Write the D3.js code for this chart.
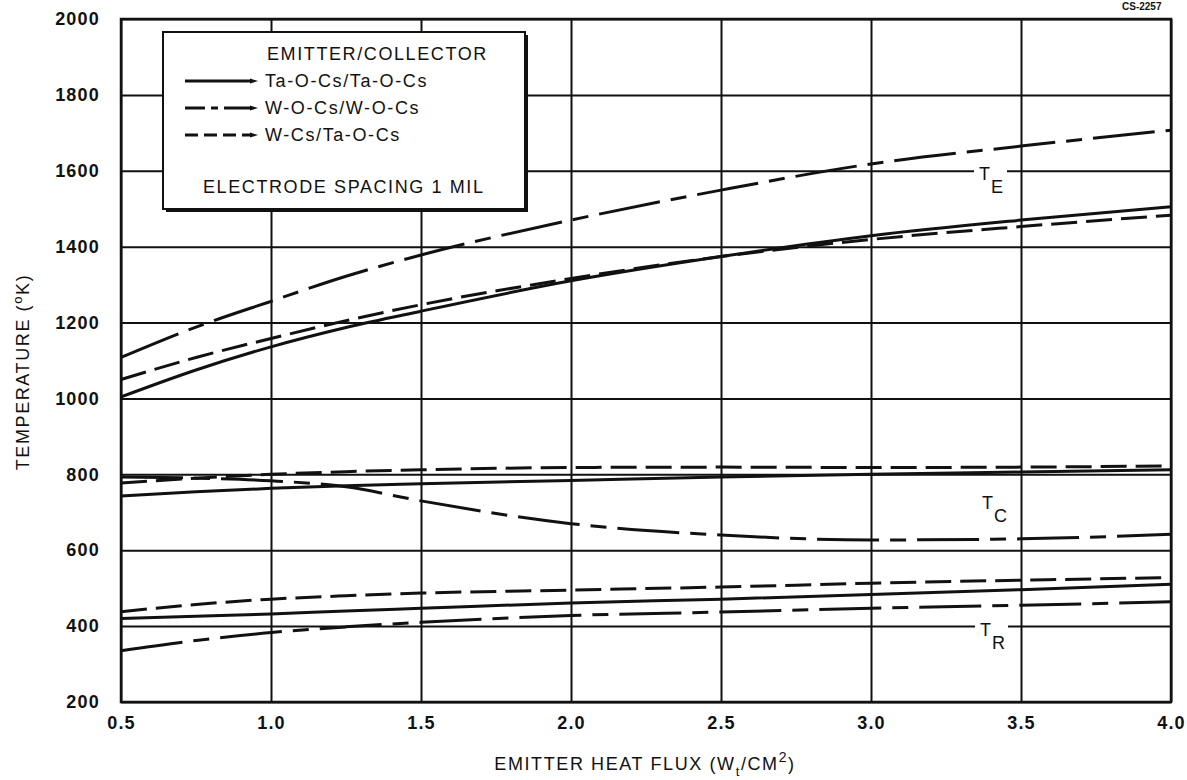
<!DOCTYPE html>
<html>
<head>
<meta charset="utf-8">
<script src="https://cdn.jsdelivr.net/npm/d3@7"></script>
<style>
  html, body { margin: 0; padding: 0; background: #fff; }
  svg { display: block; font-family: "Liberation Sans", Arial, Helvetica, sans-serif; }
</style>
</head>
<body>
<svg id="chart" width="1187" height="780"></svg>
<script>
// Emitter heat flux, W/cm^2
const flux = [0.5, 0.75, 1.0, 1.25, 1.5, 2.0, 2.5, 3.0, 3.5, 4.0];

// Emitter temperature T_E (K)
const teTaOCs = [1004, 1075, 1136, 1187, 1230, 1310, 1374, 1429, 1470, 1505];
const teWOCs  = [1108, 1188, 1256, 1322, 1378, 1470, 1549, 1618, 1665, 1707];
const teWCs   = [1050, 1108, 1158, 1205, 1247, 1316, 1374, 1419, 1453, 1483];

// Collector temperature T_C (K)
const tcTaOCs = [743, 754, 763, 770, 775, 784, 793, 800, 806, 812];
const tcWOCs  = [793, 790, 783, 767, 730, 670, 640, 627, 630, 642];
const tcWCs   = [777, 790, 800, 807, 812, 818, 819, 818, 819, 822];

// Radiator temperature T_R (K)
const trTaOCs = [420, 426, 432, 440, 447, 461, 471, 483, 496, 510];
const trWOCs  = [335, 362, 383, 398, 410, 428, 437, 447, 455, 464];
const trWCs   = [438, 457, 471, 480, 487, 495, 503, 513, 521, 528];

const xTicks = [0.5, 1.0, 1.5, 2.0, 2.5, 3.0, 3.5, 4.0];
const yTicks = [200, 400, 600, 800, 1000, 1200, 1400, 1600, 1800, 2000];

const pairNames = ["Ta-O-Cs/Ta-O-Cs", "W-O-Cs/W-O-Cs", "W-Cs/Ta-O-Cs"];
const pairDash = ["none", "62,11,16,11", "26,9"];

const svg = d3.select("#chart");
const m = { left: 121, right: 1171, top: 19, bottom: 702 };

const x = d3.scaleLinear().domain([0.5, 4.0]).range([m.left, m.right]);
const y = d3.scaleLinear().domain([200, 2000]).range([m.bottom, m.top]);

const ink = "#111";
const tickFont = { size: "18px", weight: "bold", spacing: "1.2px" };

// Grid and tick labels
const gx = svg.append("g")
  .attr("transform", `translate(0,${m.bottom})`)
  .call(d3.axisBottom(x).tickValues(xTicks).tickFormat(d3.format(".1f"))
    .tickSize(-(m.bottom - m.top)).tickPadding(14));
const gy = svg.append("g")
  .attr("transform", `translate(${m.left},0)`)
  .call(d3.axisLeft(y).tickValues(yTicks).tickFormat(d3.format("d"))
    .tickSize(-(m.right - m.left)).tickPadding(21));

[gx, gy].forEach(g => {
  g.select(".domain").remove();
  g.selectAll(".tick line").attr("stroke", ink).attr("stroke-width", 2);
  g.selectAll(".tick text")
    .attr("fill", ink)
    .style("font-size", tickFont.size)
    .style("font-weight", tickFont.weight)
    .style("letter-spacing", tickFont.spacing);
});

// Plot frame
svg.append("rect")
  .attr("x", m.left).attr("y", m.top)
  .attr("width", m.right - m.left).attr("height", m.bottom - m.top)
  .attr("fill", "none").attr("stroke", ink).attr("stroke-width", 2.5);

// Curves
const line = d3.line()
  .x((d, i) => x(flux[i]))
  .y(d => y(d))
  .curve(d3.curveMonotoneX);

const groups = [
  [teTaOCs, teWOCs, teWCs],
  [tcTaOCs, tcWOCs, tcWCs],
  [trTaOCs, trWOCs, trWCs]
];
const curves = svg.append("g");
groups.forEach(set => {
  set.forEach((vals, k) => {
    curves.append("path")
      .attr("d", line(vals))
      .attr("fill", "none")
      .attr("stroke", ink)
      .attr("stroke-width", 3)
      .attr("stroke-dasharray", pairDash[k]);
  });
});

// Curve family labels (T_E, T_C, T_R)
const famLabels = [
  { main: "T", sub: "E", x: 979, y: 180, bg: true },
  { main: "T", sub: "C", x: 982, y: 509, bg: false },
  { main: "T", sub: "R", x: 980, y: 636, bg: true }
];
famLabels.forEach(l => {
  if (l.bg) {
    svg.append("rect").attr("x", l.x - 5).attr("y", l.y - 14)
      .attr("width", 33).attr("height", 30).attr("fill", "#fff");
  }
  svg.append("text").attr("x", l.x).attr("y", l.y)
    .attr("fill", ink).style("font-size", "18px").text(l.main);
  svg.append("text").attr("x", l.x + 12).attr("y", l.y + 13)
    .attr("fill", ink).style("font-size", "18px").text(l.sub);
});

// Legend box with shadow
const lg = { x: 163, y: 32, w: 362, h: 177 };
svg.append("rect").attr("x", lg.x + 3).attr("y", lg.y + 3)
  .attr("width", lg.w).attr("height", lg.h).attr("fill", ink);
svg.append("rect").attr("x", lg.x).attr("y", lg.y)
  .attr("width", lg.w).attr("height", lg.h)
  .attr("fill", "#fff").attr("stroke", ink).attr("stroke-width", 2);

const legText = (t, tx, ty) => svg.append("text")
  .attr("x", tx).attr("y", ty).attr("fill", ink)
  .style("font-size", "18px").style("letter-spacing", "1.6px").text(t);

legText("EMITTER/COLLECTOR", 267, 60);
const rowY = [81, 108, 135];
pairNames.forEach((name, k) => {
  svg.append("line")
    .attr("x1", 185).attr("x2", 252)
    .attr("y1", rowY[k]).attr("y2", rowY[k])
    .attr("stroke", ink).attr("stroke-width", 3)
    .attr("stroke-dasharray", k === 0 ? "none" : (k === 1 ? "20,6,7,6,28" : "13,6"));
  svg.append("path")
    .attr("d", `M250,${rowY[k] - 2.5} L258,${rowY[k]} L250,${rowY[k] + 2.5} Z`)
    .attr("fill", ink);
  legText(name, 265, rowY[k] + 6);
});
legText("ELECTRODE SPACING 1 MIL", 203, 193);

// Axis titles
const yt = svg.append("text")
  .attr("transform", "translate(29,372) rotate(-90)")
  .attr("text-anchor", "middle").attr("fill", ink)
  .style("font-size", "18px").style("letter-spacing", "1.6px");
yt.append("tspan").text("TEMPERATURE (");
yt.append("tspan").attr("dy", -7).style("font-size", "13px").text("o");
yt.append("tspan").attr("dy", 7).text("K)");

const xt = svg.append("text")
  .attr("x", 645).attr("y", 770)
  .attr("text-anchor", "middle").attr("fill", ink)
  .style("font-size", "18px").style("letter-spacing", "1.6px");
xt.append("tspan").text("EMITTER HEAT FLUX (W");
xt.append("tspan").attr("dy", 6).style("font-size", "13px").text("t");
xt.append("tspan").attr("dy", -6).text("/CM");
xt.append("tspan").attr("dy", -8).style("font-size", "14px").text("2");
xt.append("tspan").attr("dy", 8).text(")");

// Figure number at the top edge
svg.append("text").attr("x", 1122).attr("y", 10)
  .attr("fill", ink).style("font-size", "10px").style("font-weight", "bold")
  .text("CS-2257");
</script>
</body>
</html>
